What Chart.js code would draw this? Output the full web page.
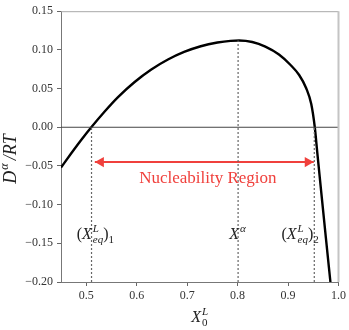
<!DOCTYPE html>
<html>
<head>
<meta charset="utf-8">
<script src="https://cdn.jsdelivr.net/npm/chart.js@4.4.1/dist/chart.umd.min.js"></script>
<style>
  html, body { margin: 0; padding: 0; background: #fff; }
  canvas { display: block; }
</style>
</head>
<body>
<canvas id="chart" width="349" height="330"></canvas>
<script>
const X_TICKS = [0.5, 0.6, 0.7, 0.8, 0.9, 1.0];
const Y_TICKS = [-0.20, -0.15, -0.10, -0.05, 0.00, 0.05, 0.10, 0.15];

// driving force curve
const CURVE_X = [0.450, 0.470, 0.490, 0.510, 0.537, 0.563, 0.596, 0.629, 0.662, 0.694,
                 0.727, 0.760, 0.786, 0.803, 0.829, 0.855, 0.882, 0.905, 0.922, 0.936,
                 0.946, 0.953, 0.958, 0.966, 0.975, 0.984];
const CURVE_Y = [-0.052, -0.034, -0.0165, 0.000, 0.0207, 0.039, 0.0585, 0.0746, 0.0875, 0.0973,
                 0.1047, 0.1095, 0.1117, 0.1121, 0.1102, 0.1042, 0.0940, 0.0805, 0.0675, 0.0505,
                 0.030, 0.000, -0.033, -0.085, -0.143, -0.200];

// (X_eq)_1, X^alpha, (X_eq)_2
const MARK_X   = [0.5105, 0.801, 0.952];
const MARK_TOP = [0.000, 0.112, 0.000];

const ARROW_X = [0.517, 0.951];
const ARROW_Y = -0.045;

const Y_MIN = -0.20, Y_MAX = 0.15;
const X_MIN = 0.45,  X_MAX = 1.0;

const SERIF = '"Liberation Serif", "DejaVu Serif", serif';
const RED   = '#f0403c';

const pts = (xs, ys) => xs.map((x, i) => ({ x, y: ys[i] }));

function measure(ctx, p) {
  if (p.gap) return p.gap;
  const items = p.stack || [p];
  return Math.max(...items.map(s => { ctx.font = s.f; return ctx.measureText(s.t).width; }));
}

function drawRich(ctx, parts, x, y) {
  const total = parts.reduce((w, p) => w + measure(ctx, p), 0);
  let cx = x - total / 2;
  parts.forEach(p => {
    if (!p.gap) {
      (p.stack || [p]).forEach(s => {
        ctx.font = s.f;
        ctx.fillText(s.t, cx, y + (s.dy || 0));
      });
    }
    cx += measure(ctx, p);
  });
}

const BIG   = `italic 16px ${SERIF}`;
const BIGRM = `16px ${SERIF}`;
const SM    = `italic 11px ${SERIF}`;
const SMRM  = `11px ${SERIF}`;

const eqLabel = n => [
  { t: '(', f: BIGRM },
  { t: 'X', f: BIG },
  { gap: 1 },
  { stack: [{ t: 'L', f: SM, dy: -7 }, { t: 'eq', f: SM, dy: 4 }] },
  { t: ')', f: BIGRM },
  { t: n, f: SMRM, dy: 4 },
];

const textPlugin = {
  id: 'figText',
  afterDatasetsDraw(chart) {
    const { ctx, chartArea: a, scales: { x, y } } = chart;
    ctx.save();

    // frame on top and right
    ctx.strokeStyle = '#a8a8a8';
    ctx.lineWidth = 1;
    ctx.beginPath();
    ctx.moveTo(a.left, a.top + 0.5);
    ctx.lineTo(a.right, a.top + 0.5);
    ctx.stroke();
    ctx.strokeStyle = '#c4c4c4';
    ctx.lineWidth = 2;
    ctx.beginPath();
    ctx.moveTo(a.right, a.top);
    ctx.lineTo(a.right, a.bottom);
    ctx.stroke();

    ctx.textBaseline = 'alphabetic';

    ctx.fillStyle = RED;
    ctx.font = `17px ${SERIF}`;
    ctx.textAlign = 'center';
    ctx.fillText('Nucleability Region', x.getPixelForValue(0.741), y.getPixelForValue(-0.065) + 5);
    ctx.textAlign = 'left';

    ctx.fillStyle = '#222';
    const ly = y.getPixelForValue(-0.138) + 5;
    drawRich(ctx, eqLabel('1'), x.getPixelForValue(0.518), ly);
    drawRich(ctx, [{ t: 'X', f: BIG }, { gap: 1 }, { t: 'α', f: SM, dy: -7 }], x.getPixelForValue(0.80), ly);
    drawRich(ctx, eqLabel('2'), x.getPixelForValue(0.924), ly);

    // axis titles
    drawRich(ctx, [{ t: 'X', f: BIG }, { gap: 1 }, { stack: [{ t: 'L', f: SM, dy: -7 }, { t: '0', f: SMRM, dy: 4 }] }],
             (a.left + a.right) / 2, 322);

    ctx.translate(16, 159);
    ctx.rotate(-Math.PI / 2);
    drawRich(ctx, [
      { t: 'D', f: `italic 18px ${SERIF}` },
      { gap: 1 },
      { t: 'α', f: `italic 12px ${SERIF}`, dy: -8 },
      { gap: 3 },
      { t: '/RT', f: `italic 18px ${SERIF}` },
    ], 0, 0);
    ctx.restore();
  }
};

const dotted = MARK_X.map((mx, i) => ({
  data: pts([mx, mx], [Y_MIN, MARK_TOP[i]]),
  borderColor: '#666',
  borderWidth: 1.2,
  borderDash: [2, 2],
  pointRadius: 0,
}));

new Chart(document.getElementById('chart').getContext('2d'), {
  type: 'line',
  data: {
    datasets: [
      {
        data: pts([X_MIN, X_MAX], [0, 0]),
        borderColor: '#444',
        borderWidth: 1,
        pointRadius: 0,
      },
      ...dotted,
      {
        data: pts(ARROW_X, [ARROW_Y, ARROW_Y]),
        borderColor: RED,
        borderWidth: 2,
        pointRadius: 0,
      },
      {
        // arrow heads, set in by the head size
        data: pts([ARROW_X[0] + 0.012, ARROW_X[1] - 0.012], [ARROW_Y, ARROW_Y]),
        showLine: false,
        pointStyle: 'triangle',
        pointRotation: [-90, 90],
        pointRadius: 6,
        pointBackgroundColor: RED,
        pointBorderColor: RED,
        pointBorderWidth: 0,
      },
      {
        data: pts(CURVE_X, CURVE_Y),
        borderColor: '#000',
        borderWidth: 2.4,
        pointRadius: 0,
        cubicInterpolationMode: 'monotone',
      },
    ]
  },
  options: {
    responsive: false,
    animation: false,
    devicePixelRatio: 1,
    layout: { padding: { top: 5, right: 9, left: 0, bottom: 0 } },
    plugins: {
      legend: { display: false },
      tooltip: { enabled: false },
    },
    scales: {
      x: {
        type: 'linear',
        min: X_MIN,
        max: X_MAX,
        afterBuildTicks: s => { s.ticks = X_TICKS.map(value => ({ value })); },
        afterFit: s => { s.height = 48; },
        ticks: {
          color: '#333',
          padding: 3,
          font: { family: SERIF, size: 12 },
          callback: v => v.toFixed(1),
        },
        grid: { drawOnChartArea: false, drawTicks: true, tickLength: 4, color: '#666' },
        border: { color: '#777', width: 1 },
      },
      y: {
        min: Y_MIN,
        max: Y_MAX,
        afterBuildTicks: s => { s.ticks = Y_TICKS.map(value => ({ value })); },
        afterFit: s => { s.width = 61; },
        ticks: {
          color: '#333',
          padding: 4,
          font: { family: SERIF, size: 12 },
          callback: v => v.toFixed(2).replace('-', '\u2212'),
        },
        grid: { drawOnChartArea: false, drawTicks: true, tickLength: 4, color: '#666' },
        border: { color: '#777', width: 1 },
      }
    }
  },
  plugins: [textPlugin]
});
</script>
</body>
</html>
